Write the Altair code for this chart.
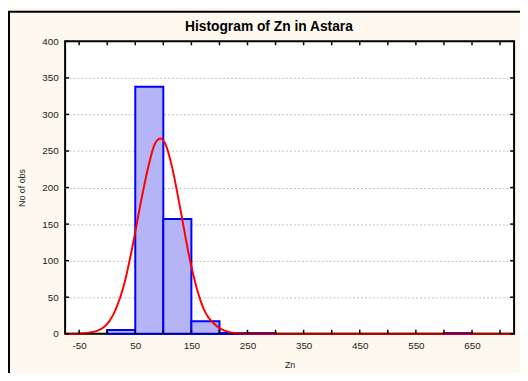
import altair as alt
import pandas as pd

# ---- data ----
BIN_START = [0, 50, 100, 150, 200, 250, 600]
BIN_END = [50, 100, 150, 200, 250, 300, 650]
COUNTS = [5, 338, 157, 17, 1, 1, 1]

# fitted normal curve
CURVE_X = [-75, -50, -25, 0, 15, 30, 45, 60, 75, 85, 95, 105, 115, 130, 145,
           160, 175, 190, 205, 220, 240, 260, 300, 400, 500, 600, 725]
CURVE_Y = [0, 0.3, 2.3, 13.5, 33, 67, 119, 180, 234, 260, 267, 257, 230, 172, 110,
           61, 29, 14, 5.5, 1.8, 0.3, 0, 0, 0, 0, 0, 0]

X_LABELS = [-50, 50, 150, 250, 350, 450, 550, 650]
X_TICKS = [-50, 0, 50, 100, 150, 200, 250, 300, 350, 400, 450, 500, 550, 600, 650, 700]
Y_TICKS = [0, 50, 100, 150, 200, 250, 300, 350, 400]

TITLE = "Histogram of Zn in Astara"
X_TITLE = "Zn"
Y_TITLE = "No of obs"

W, H = 456, 297
FONT = "Liberation Sans"
TXT = "#1a1a1a"

xscale = alt.Scale(domain=[-75, 725], nice=False, zero=False)
yscale = alt.Scale(domain=[0, 400], nice=False, zero=True)

XAX = alt.Axis(values=X_LABELS, title=X_TITLE, ticks=False, domain=False, grid=False,
               labelExpr="'' + datum.value",
               labelFont=FONT, labelFontSize=10, labelColor=TXT, labelPadding=7,
               titleFont=FONT, titleFontSize=9, titleFontWeight="normal", titleColor=TXT,
               titleX=W / 2, titleY=31, titleBaseline="middle")
YAX = alt.Axis(values=Y_TICKS, title=Y_TITLE, ticks=False, domain=False,
               grid=True, gridColor="#BDBDBD", gridDash=[2, 2], gridWidth=1,
               gridOpacity=alt.condition("datum.value == 0 || datum.value == 400",
                                         alt.value(0), alt.value(1)),
               labelFont=FONT, labelFontSize=10, labelColor=TXT, labelPadding=7,
               titleFont=FONT, titleFontSize=9, titleFontWeight="normal", titleColor=TXT,
               titleX=-44, titleY=H / 2, titleBaseline="middle", titleAngle=270)

bars_df = pd.DataFrame({"start": BIN_START, "end": BIN_END, "count": COUNTS})
curve_df = pd.DataFrame({"x": CURVE_X, "y": CURVE_Y})
xt_df = pd.DataFrame({"t": X_TICKS})
yt_df = pd.DataFrame({"t": Y_TICKS})
one_df = pd.DataFrame({"b": [0]})

bars = alt.Chart(bars_df).mark_rect(fill="#B4B4F6", stroke="#0000FF", strokeWidth=2).encode(
    x=alt.X("start:Q", scale=xscale, axis=XAX),
    x2="end:Q",
    y=alt.Y("count:Q", scale=yscale, axis=YAX),
    y2=alt.datum(0),
)

curve = alt.Chart(curve_df).mark_line(color="#FF0000", strokeWidth=2, interpolate="monotone").encode(
    x=alt.X("x:Q", scale=xscale, axis=XAX),
    y=alt.Y("y:Q", scale=yscale, axis=YAX),
)

baseline = alt.Chart(one_df).mark_rule(color="black", strokeWidth=1, opacity=0.5).encode(
    y=alt.Y("b:Q", scale=yscale, axis=YAX)
)

tick_style = dict(color="black", strokeWidth=1.5)
t_bottom = alt.Chart(xt_df).mark_rule(**tick_style).encode(
    x=alt.X("t:Q", scale=xscale, axis=XAX), y=alt.value(H), y2=alt.value(H - 4))
t_top = alt.Chart(xt_df).mark_rule(**tick_style).encode(
    x=alt.X("t:Q", scale=xscale, axis=XAX), y=alt.value(0), y2=alt.value(4))
t_left = alt.Chart(yt_df).mark_rule(**tick_style).encode(
    y=alt.Y("t:Q", scale=yscale, axis=YAX), x=alt.value(0), x2=alt.value(4))
t_right = alt.Chart(yt_df).mark_rule(**tick_style).encode(
    y=alt.Y("t:Q", scale=yscale, axis=YAX), x=alt.value(W), x2=alt.value(W - 4))

frame = alt.Chart(one_df).mark_rect(fill="transparent", stroke="black", strokeWidth=2).encode(
    x=alt.value(-57), x2=alt.value(W + 80), y=alt.value(-30), y2=alt.value(H + 100)
)

title = alt.Chart(one_df).mark_text(
    text=TITLE, font=FONT, fontSize=14, fontWeight="bold", color="black",
    align="center", baseline="alphabetic"
).encode(x=alt.value(207), y=alt.value(-11))

chart = alt.layer(
    bars, curve, baseline, t_bottom, t_top, t_left, t_right, frame, title
).properties(
    width=W,
    height=H,
    autosize=alt.AutoSizeParams(type="none"),
    padding={"left": 58, "top": 31, "right": 6, "bottom": 37},
    background="#FDF9EE",
).configure_view(
    fill="white", stroke="black", strokeWidth=2
)

chart.save("out.html", embed_options={"renderer": "svg", "actions": False})
